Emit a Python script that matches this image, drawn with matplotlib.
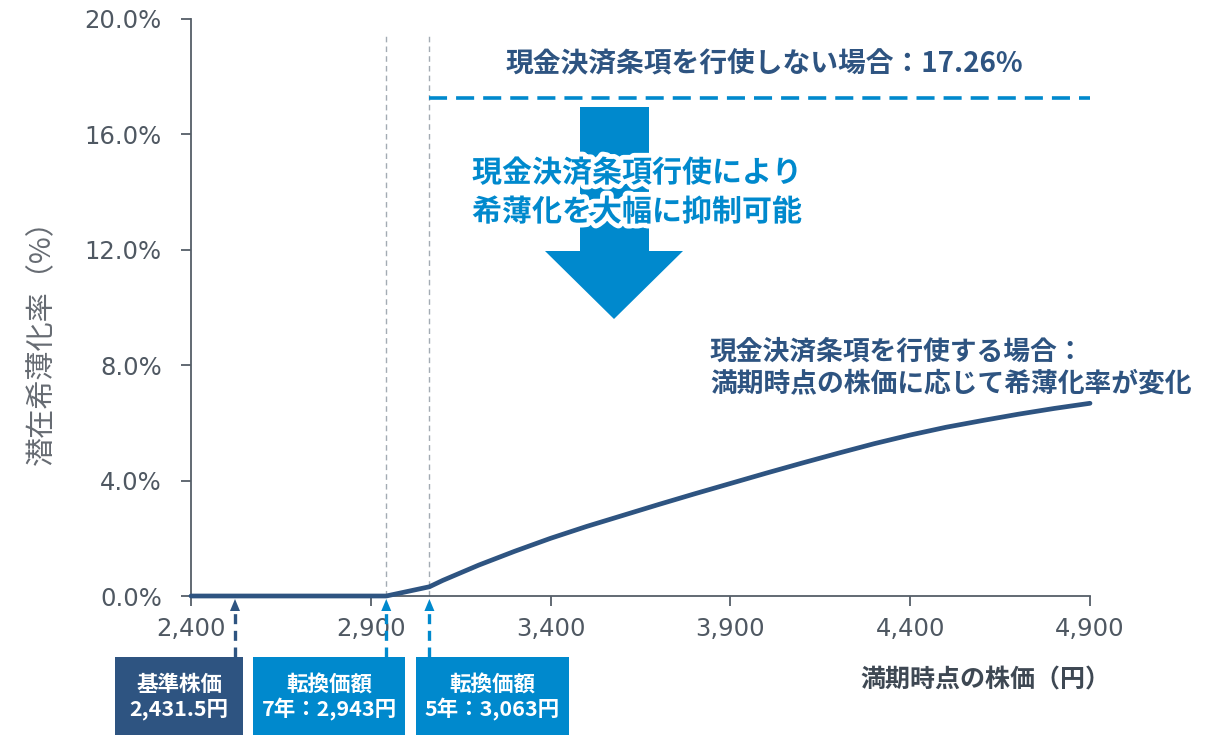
import matplotlib
matplotlib.use("Agg")
import matplotlib.pyplot as plt
import matplotlib.patheffects as pe
from matplotlib.patches import Polygon, Rectangle
from matplotlib.ticker import FuncFormatter

plt.rcParams["font.family"] = ["DejaVu Sans"]

# ---- data ----
stock_price = [2400, 2943, 3063, 3100, 3200, 3300, 3400, 3500, 3600, 3700, 3800,
               3900, 4000, 4100, 4200, 4300, 4400, 4500, 4600, 4700, 4800, 4900]
dilution_pct = [0.0, 0.0, 0.32, 0.54, 1.07, 1.55, 2.00, 2.41, 2.79, 3.17, 3.54,
                3.90, 4.26, 4.61, 4.95, 5.28, 5.58, 5.85, 6.08, 6.30, 6.50, 6.68]
no_cash_settle_pct = 17.26
conv_price_7y = 2943
conv_price_5y = 3063
base_price = 2431.5
x_ticks = [2400, 2900, 3400, 3900, 4400, 4900]
y_ticks = [0, 4, 8, 12, 16, 20]

NAVY = "#2E5481"
BLUE = "#0089CD"
GRAY = "#555E68"
JP = ["Noto Sans CJK JP", "DejaVu Sans"]

W, H = 1217, 735
fig = plt.figure(figsize=(W / 100, H / 100), dpi=100)
ax = fig.add_axes([191 / W, 1 - 596 / H, (1090 - 191) / W, (596 - 19) / H])


def fx(px):
    return px / W


def fy(py):
    return 1 - py / H


ax.set_xlim(2400, 4900)
ax.set_ylim(0, 20)
ax.set_xticks(x_ticks)
ax.set_yticks(y_ticks)
ax.xaxis.set_major_formatter(FuncFormatter(lambda v, p: f"{int(v):,}"))
ax.yaxis.set_major_formatter(FuncFormatter(lambda v, p: f"{v:.1f}%"))
for s in ["top", "right"]:
    ax.spines[s].set_visible(False)
for s in ["left", "bottom"]:
    ax.spines[s].set_color(GRAY)
    ax.spines[s].set_linewidth(1.3)
ax.tick_params(axis="both", colors=GRAY, labelcolor="#4F5862", labelsize=17.5,
               length=7, width=1.3, direction="out")
ax.tick_params(axis="x", pad=8)
ax.tick_params(axis="y", pad=14)

# vertical dashed reference lines
for xv in [conv_price_7y, conv_price_5y]:
    ax.plot([xv, xv], [0, 19.5], color="#A3ABB3", lw=1.0, ls=(0, (4, 3)),
            zorder=1, clip_on=False)

# no cash-settlement line
ax.plot([conv_price_5y, 4900], [no_cash_settle_pct, no_cash_settle_pct],
        color=BLUE, lw=2.6, ls=(0, (5, 2.5)), zorder=2)

# curve
ax.plot(stock_price, dilution_pct, color=NAVY, lw=3.4, solid_capstyle="round",
        zorder=4, clip_on=False)

# big down arrow (figure pixels)
arrow_pts = [(580, 107), (649, 107), (649, 251), (683, 251), (614, 319),
             (545, 251), (580, 251)]
fig.patches.append(Polygon([(fx(x), fy(y)) for x, y in arrow_pts], closed=True,
                           transform=fig.transFigure, facecolor=BLUE,
                           edgecolor="none", zorder=3))

glow = [pe.withStroke(linewidth=7, foreground="white")]
fig.text(fx(472), fy(173), "現金決済条項行使により", family=JP, fontweight="bold",
         fontsize=21.6, color=BLUE, ha="left", va="center", path_effects=glow, zorder=5)
fig.text(fx(472), fy(212), "希薄化を大幅に抑制可能", family=JP, fontweight="bold",
         fontsize=21.6, color=BLUE, ha="left", va="center", path_effects=glow, zorder=5)

fig.text(fx(764), fy(64), f"現金決済条項を行使しない場合：{no_cash_settle_pct:.2f}%",
         family=JP, fontweight="bold", fontsize=20, color=NAVY, ha="center",
         va="center")
fig.text(fx(710), fy(352), "現金決済条項を行使する場合：", family=JP,
         fontweight="bold", fontsize=19.3, color=NAVY, ha="left", va="center")
fig.text(fx(710), fy(383), "満期時点の株価に応じて希薄化率が変化", family=JP,
         fontweight="bold", fontsize=19.3, color=NAVY, ha="left", va="center")

# axis labels
fig.text(fx(985), fy(680), "満期時点の株価（円）", family=JP, fontweight="bold",
         fontsize=18, color="#3E4853", ha="center", va="center")
fig.text(fx(42), fy(335), "潜在希薄化率（%）", family=JP, fontsize=21,
         color="#666B72", rotation=90, ha="center", va="center")

# boxes under the axis
boxes = [
    (115, 243, NAVY, "基準株価\n2,431.5円", 235),
    (253, 405, BLUE, f"転換価額\n7年：{conv_price_7y:,}円", None),
    (416, 569, BLUE, f"転換価額\n5年：{conv_price_5y:,}円", None),
]
arrow_targets = [None, conv_price_7y, conv_price_5y]
for (x0, x1, col, txt, apx), tgt in zip(boxes, arrow_targets):
    fig.patches.append(Rectangle((fx(x0), fy(735)), fx(x1 - x0), (735 - 657) / H,
                                 transform=fig.transFigure, facecolor=col,
                                 edgecolor="none"))
    fig.text(fx((x0 + x1) / 2), fy(697), txt, family=JP, fontweight="bold",
             fontsize=15.5, color="white", ha="center", va="center",
             linespacing=1.2)
    if tgt is not None:
        xa = ax.transData.transform((tgt, 0))[0] / W
    else:
        xa = fx(apx)
    fig.add_artist(plt.Line2D([xa, xa], [fy(657), fy(610)], color=col, lw=2.4,
                              ls=(0, (3, 2)), transform=fig.transFigure))
    fig.patches.append(Polygon([(xa, fy(599)), (xa - fx(5), fy(611)),
                                (xa + fx(5), fy(611))], closed=True,
                               transform=fig.transFigure, facecolor=col,
                               edgecolor="none"))

fig.savefig("out.png", dpi=100)
